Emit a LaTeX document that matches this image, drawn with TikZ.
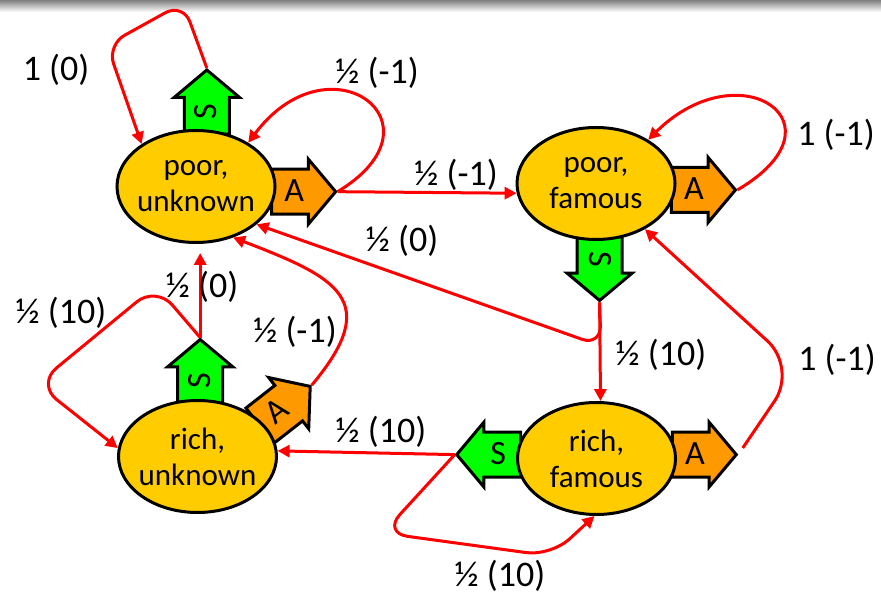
\documentclass[tikz,border=0pt]{standalone}
\usepackage{fontspec}
\setmainfont{Carlito}
\usepackage{tikz}
\usetikzlibrary{arrows.meta,shapes.geometric,shapes.arrows,backgrounds,calc}

\definecolor{stategold}{RGB}{255,204,0}
\definecolor{actorange}{RGB}{255,153,0}
\definecolor{actgreen}{RGB}{0,255,0}

\begin{document}
\begin{tikzpicture}[x=1pt,y=1pt,
  state/.style={ellipse,draw,line width=3pt,fill=stategold,minimum width=158pt,
    minimum height=112pt,inner sep=-8pt,align=center,font=\fontsize{31}{36}\selectfont},
  act/.style={single arrow,draw,line width=3pt,minimum height=64pt,
    single arrow head extend=10pt,single arrow tip angle=100,inner xsep=3pt,
    inner ysep=11pt,text height=20pt,text depth=0pt,anchor=tail,
    font=\fontsize{34}{34}\selectfont},
  stay/.style={act,fill=actgreen},
  go/.style={act,fill=actorange},
  edge/.style={draw=red,line width=3pt,-{Triangle[length=12pt,width=12pt]}},
  prob/.style={font=\fontsize{36}{36}\selectfont}]
  \useasboundingbox (0,0) rectangle (881,594);
  \shade[top color=black!50,bottom color=white] (0,582) rectangle (881,594);

  \node[state] (pu) at (196,407.5) {poor,\\unknown};
  \node[state] (pf) at (596,410.5) {poor,\\famous};
  \node[state] (ru) at (197.5,137.5) {rich,\\unknown};
  \node[state] (rf) at (596.5,135.5) {rich,\\famous};

  \begin{scope}[on background layer]
    \node[stay,rotate=90] (puS) at ($(pu.78)!6pt!(pu.center)$) {S};
    \node[go] (puA) at ($(pu.-4)!6pt!(pu.center)$) {A};
    \node[stay,rotate=-90] (pfS) at ($(pf.-86)!6pt!(pf.center)$) {S};
    \node[go] (pfA) at ($(pf.-5)!6pt!(pf.center)$) {A};
    \node[stay,rotate=90] (ruS) at ($(ru.87)!6pt!(ru.center)$) {S};
    \node[go,rotate=38] (ruA) at ($(ru.26)!6pt!(ru.center)$) {A};
    \node[stay,shape border rotate=180] (rfS) at ($(rf.177)!6pt!(rf.center)$) {S};
    \node[go] (rfA) at ($(rf.3)!6pt!(rf.center)$) {A};
  \end{scope}

  % poor, unknown
  \draw[edge,rounded corners=20pt] (puS.tip) -- (183,591) -- (107,549) -- (pu.142);
  \draw[edge] (puA.tip) .. controls (450,470) and (330,560) .. (pu.40);
  \draw[edge] (puA.tip) -- (pf.187);
  % poor, famous
  \draw[edge] (pfA.tip) .. controls (850,470) and (740,545) .. (pf.40);
  \draw[edge,rounded corners=20pt] (pfS.tip) -- (601,248) -- (pu.-32);
  \draw[edge] (pfS.tip) -- (rf.86);
  % rich, unknown
  \draw[edge,shorten >=9pt] (ruS.tip) -- (ruS.tip |- pu.south);
  \draw[edge,rounded corners=25pt] (ruS.tip) -- (156,308) -- (37,210) -- (ru.174);
  \draw[edge] (ruA.tip) to[out=50,in=-21,looseness=1.7] (pu.-54);
  % rich, famous
  \draw[edge] (rfS.tip) -- (ru.4);
  \draw[edge,rounded corners=25pt] (rfS.tip) -- (383,61) -- (551,38) -- (rf.-92);
  \draw[edge,rounded corners=40pt,shorten <=8pt] (rfA.tip) -- (797,226) -- (pf.-43);

  \node[prob] (l1) at (56,524) {1 (0)};
  \node[prob] (l2) at (377,521) {½ (-1)};
  \node[prob] (l3) at (456,419) {½ (-1)};
  \node[prob] (l4) at (402,353) {½ (0)};
  \node[prob] (l5) at (295,262) {½ (-1)};
  \node[prob] (l6) at (661,239) {½ (10)};
  \node[prob] (l7) at (837,234) {1 (-1)};
  \node[prob] (l8) at (381,162) {½ (10)};
  \node[prob] (l9) at (500,18) {½ (10)};
  \node[prob] (l10) at (202,307) {½ (0)};
  \node[prob] (l11) at (61,281) {½ (10)};
  \node[prob] (l12) at (836,459) {1 (-1)};
\end{tikzpicture}
\end{document}
